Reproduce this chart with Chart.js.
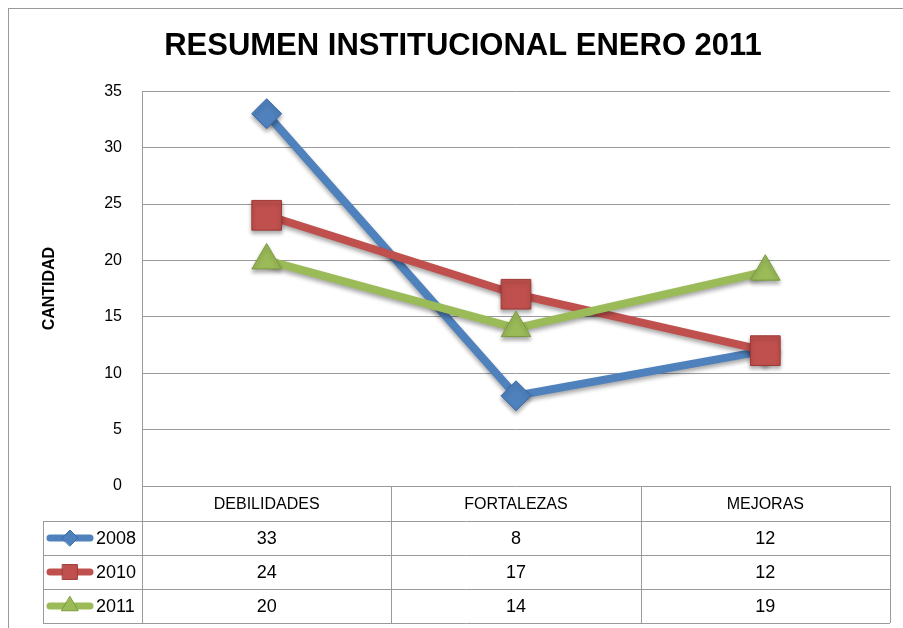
<!DOCTYPE html>
<html>
<head>
<meta charset="utf-8">
<script src="https://cdn.jsdelivr.net/npm/chart.js@4/dist/chart.umd.min.js"></script>
<style>
  html, body { margin: 0; padding: 0; background: #ffffff; }
  #wrap { width: 903px; height: 628px; position: relative; }
</style>
</head>
<body>
<div id="wrap"><canvas id="c" width="903" height="628"></canvas></div>
<script>
const categories = ['DEBILIDADES', 'FORTALEZAS', 'MEJORAS'];
const seriesNames = ['2008', '2010', '2011'];
const values2008 = [33, 8, 12];
const values2010 = [24, 17, 12];
const values2011 = [20, 14, 19];
const yTicks = [0, 5, 10, 15, 20, 25, 30, 35];
const chartTitle = 'RESUMEN INSTITUCIONAL ENERO 2011';
const yTitle = 'CANTIDAD';

const colors = ['#4F81BD', '#C0504D', '#9BBB59'];
const borders = ['#3B6AA3', '#9E3A37', '#7C9B3E'];
const styles = ['rectRot', 'rect', 'triangle'];
const radii = [15, 21, 17];
const legendRadii = [8, 10.5, 9.5];
const seriesValues = [values2008, values2010, values2011];

const GRID = '#9a9a9a';
const FONT = '"Liberation Sans", Arial, sans-serif';

const tablePlugin = {
  id: 'tablePlugin',
  beforeDraw(chart) {
    const ctx = chart.ctx;
    ctx.save();
    ctx.strokeStyle = '#9a9a9a';
    ctx.lineWidth = 1;
    ctx.strokeRect(8.5, 8.5, 1000, 1000);
    ctx.restore();
  },
  beforeDatasetDraw(chart) {
    const ctx = chart.ctx;
    ctx.save();
    ctx.shadowColor = 'rgba(0,0,0,0.35)';
    ctx.shadowBlur = 4;
    ctx.shadowOffsetX = 0;
    ctx.shadowOffsetY = 3;
  },
  afterDatasetDraw(chart) {
    chart.ctx.restore();
  },
  afterDraw(chart) {
    const ctx = chart.ctx;
    const area = chart.chartArea;
    const xs = chart.scales.x;
    const n = categories.length;
    const colW = (area.right - area.left) / n;
    const rowH = 34;
    const headerBottom = area.bottom + 35;
    const tableLeft = 43;
    const tableBottom = headerBottom + rowH * seriesNames.length;
    const crisp = v => Math.round(v) + 0.5;

    ctx.save();
    ctx.strokeStyle = GRID;
    ctx.lineWidth = 1;
    ctx.beginPath();
    ctx.moveTo(crisp(area.left), area.bottom);
    ctx.lineTo(crisp(area.left), tableBottom);
    for (let i = 1; i <= n; i++) {
      const x = crisp(area.left + colW * i);
      ctx.moveTo(x, area.bottom);
      ctx.lineTo(x, tableBottom);
    }
    ctx.moveTo(crisp(tableLeft), headerBottom);
    ctx.lineTo(crisp(tableLeft), tableBottom);
    for (let r = 0; r <= seriesNames.length; r++) {
      const y = crisp(headerBottom + rowH * r);
      ctx.moveTo(tableLeft, y);
      ctx.lineTo(area.right, y);
    }
    ctx.stroke();

    ctx.fillStyle = '#000';
    ctx.textBaseline = 'middle';
    ctx.textAlign = 'center';
    ctx.font = '16px ' + FONT;
    categories.forEach((c, i) => {
      ctx.fillText(c, xs.getPixelForValue(i), area.bottom + 35 / 2 + 1);
    });

    seriesNames.forEach((name, r) => {
      const cy = headerBottom + rowH * r + rowH / 2 + 1;
      ctx.font = '18px ' + FONT;
      ctx.textAlign = 'center';
      seriesValues[r].forEach((v, i) => {
        ctx.fillText(String(v), xs.getPixelForValue(i), cy);
      });
      ctx.save();
      ctx.strokeStyle = colors[r];
      ctx.lineWidth = 7;
      ctx.lineCap = 'round';
      ctx.beginPath();
      ctx.moveTo(50, cy - 1);
      ctx.lineTo(90, cy - 1);
      ctx.stroke();
      ctx.fillStyle = colors[r];
      ctx.strokeStyle = borders[r];
      ctx.lineWidth = 1;
      Chart.helpers.drawPoint(ctx, {pointStyle: styles[r], radius: legendRadii[r], rotation: 0, borderWidth: 1}, 70, cy - 1);
      ctx.restore();
      ctx.fillStyle = '#000';
      ctx.font = '18px ' + FONT;
      ctx.textAlign = 'left';
      ctx.fillText(name, 96, cy);
    });
    ctx.restore();
  }
};

const datasets = seriesNames.map((name, i) => ({
  label: name,
  data: seriesValues[i],
  order: seriesNames.length - i,
  borderColor: colors[i],
  backgroundColor: colors[i],
  borderWidth: 8,
  pointStyle: styles[i],
  pointRadius: radii[i],
  pointHoverRadius: radii[i],
  pointBackgroundColor: colors[i],
  pointBorderColor: borders[i],
  pointBorderWidth: 1,
  tension: 0,
  fill: false
}));

const PAD_LEFT = 36;

new Chart(document.getElementById('c'), {
  type: 'line',
  data: { labels: categories, datasets },
  options: {
    responsive: false,
    animation: false,
    devicePixelRatio: 1,
    layout: { autoPadding: false, padding: { left: PAD_LEFT, right: 13, top: 0, bottom: 142 } },
    plugins: {
      legend: { display: false },
      tooltip: { enabled: false },
      title: {
        display: true,
        text: chartTitle,
        color: '#000',
        font: { family: FONT, size: 31, weight: 'bold', lineHeight: 1.2 },
        padding: { top: 28, bottom: 26 }
      }
    },
    scales: {
      x: {
        type: 'category',
        offset: true,
        grid: { display: false },
        border: { display: false },
        ticks: { display: false },
        afterFit(s) { s.height = 0; }
      },
      y: {
        min: 0,
        max: 35,
        afterBuildTicks(s) { s.ticks = yTicks.map(v => ({ value: v })); },
        grid: { color: GRID, lineWidth: 1, drawTicks: false },
        border: { color: GRID, width: 1 },
        ticks: { color: '#000', padding: 20, font: { family: FONT, size: 16 } },
        title: {
          display: true,
          text: yTitle,
          color: '#000',
          padding: { top: 40 - PAD_LEFT, bottom: 0 },
          font: { family: FONT, size: 16, weight: 'bold' }
        },
        afterFit(s) { s.width = 142 - PAD_LEFT; }
      }
    }
  },
  plugins: [tablePlugin]
});
</script>
</body>
</html>
